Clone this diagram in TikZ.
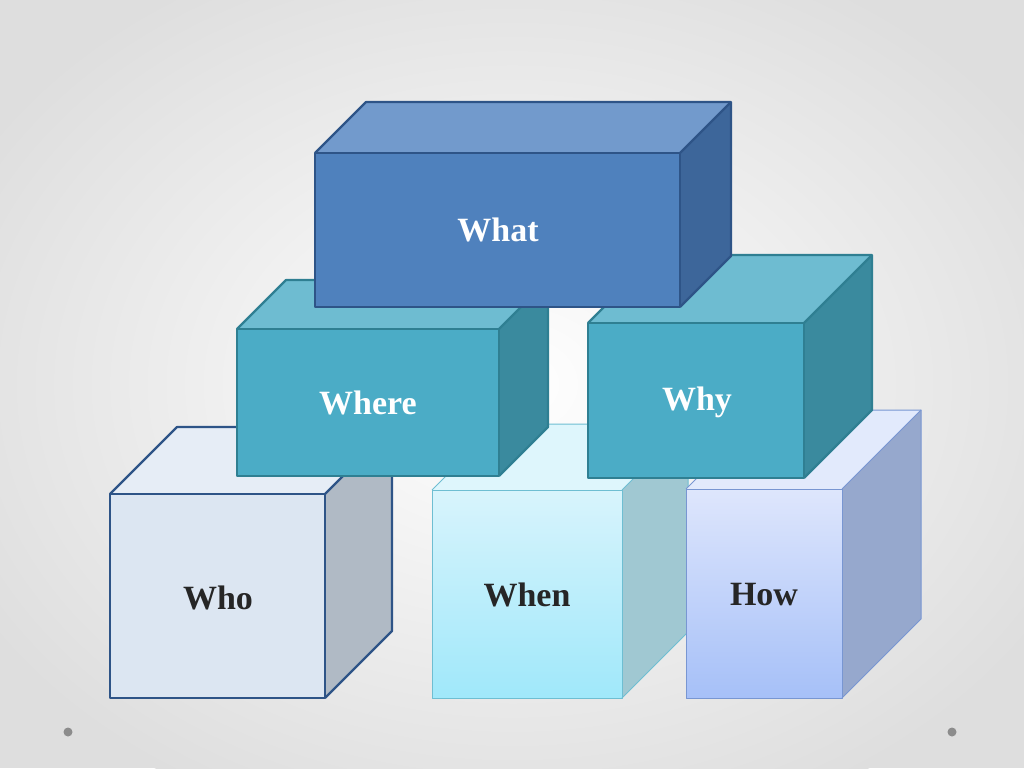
\documentclass[tikz,border=0pt]{standalone}
\usepackage{fontspec}
\setmainfont{Liberation Serif}
\begin{document}
\begin{tikzpicture}[x=1pt,y=-1pt,
  lbl/.style={font=\fontsize{34}{38}\selectfont\bfseries},
  cedge/.style={line width=2.2pt,line join=round}]
\useasboundingbox (0,0) rectangle (1024,768);
\fill[black!13] (0,0) rectangle (1024,768);
\shade[inner color=white,outer color=black!13] (512,384) ellipse (620 and 470);
\newcommand\mycube[8]{%
  \path[#6] (#1,#2) rectangle (#3,#4);
  \path[fill=#7] (#1,#2) -- ++(#5,-#5) -- ++(#3-#1,0) -- (#3,#2) -- cycle;
  \path[fill=#8] (#3,#2) -- ++(#5,-#5) -- ++(0,#4-#2) -- (#3,#4) -- cycle;
  \draw[cb] (#1,#2) rectangle (#3,#4);
  \draw[cb] (#1,#2) -- ++(#5,-#5) -- ++(#3-#1,0) -- ++(0,#4-#2) -- (#3,#4);
  \draw[cb] (#3,#2) -- ++(#5,-#5);
}
\definecolor{dkb}{HTML}{2E5487}
\definecolor{tealb}{HTML}{2F7F92}
\tikzset{cb/.style={draw=dkb,cedge}}
\mycube{110}{494}{325}{698}{67}{fill={rgb,255:red,220;green,230;blue,242}}{{rgb,255:red,230;green,237;blue,246}}{{rgb,255:red,176;green,186;blue,197}}
\tikzset{cb/.style={draw={rgb,255:red,110;green,190;blue,210},line width=1pt,line join=round}}
\mycube{432}{490}{622}{698}{66}{top color={rgb,255:red,216;green,244;blue,252},bottom color={rgb,255:red,160;green,232;blue,250}}{{rgb,255:red,222;green,246;blue,252}}{{rgb,255:red,160;green,200;blue,210}}
\tikzset{cb/.style={draw={rgb,255:red,120;green,150;blue,210},line width=1pt,line join=round}}
\mycube{686}{489}{842}{698}{79}{top color={rgb,255:red,222;green,230;blue,252},bottom color={rgb,255:red,166;green,192;blue,248}}{{rgb,255:red,226;green,234;blue,252}}{{rgb,255:red,150;green,168;blue,205}}
\tikzset{cb/.style={draw=tealb,cedge}}
\mycube{237}{329}{499}{476}{49}{fill={rgb,255:red,75;green,172;blue,198}}{{rgb,255:red,110;green,188;blue,209}}{{rgb,255:red,58;green,138;blue,158}}
\mycube{588}{323}{804}{478}{68}{fill={rgb,255:red,75;green,172;blue,198}}{{rgb,255:red,110;green,188;blue,209}}{{rgb,255:red,58;green,138;blue,158}}
\tikzset{cb/.style={draw=dkb,cedge}}
\mycube{315}{153}{680}{307}{51}{fill={rgb,255:red,79;green,129;blue,189}}{{rgb,255:red,114;green,154;blue,204}}{{rgb,255:red,61;green,102;blue,154}}
\node[lbl,white] (what) at (498,230) {What};
\node[lbl,white] (where) at (368,403) {Where};
\node[lbl,white] (why) at (697,402) {Why};
\node[lbl,black!85] (who) at (218,598) {Who};
\node[lbl,black!85] (when) at (527,595) {When};
\node[lbl,black!85] (how) at (764,595) {How};
\fill[black!45] (68,732) circle (4.5);
\fill[black!45] (952,732) circle (4.5);
\end{tikzpicture}
\end{document}
